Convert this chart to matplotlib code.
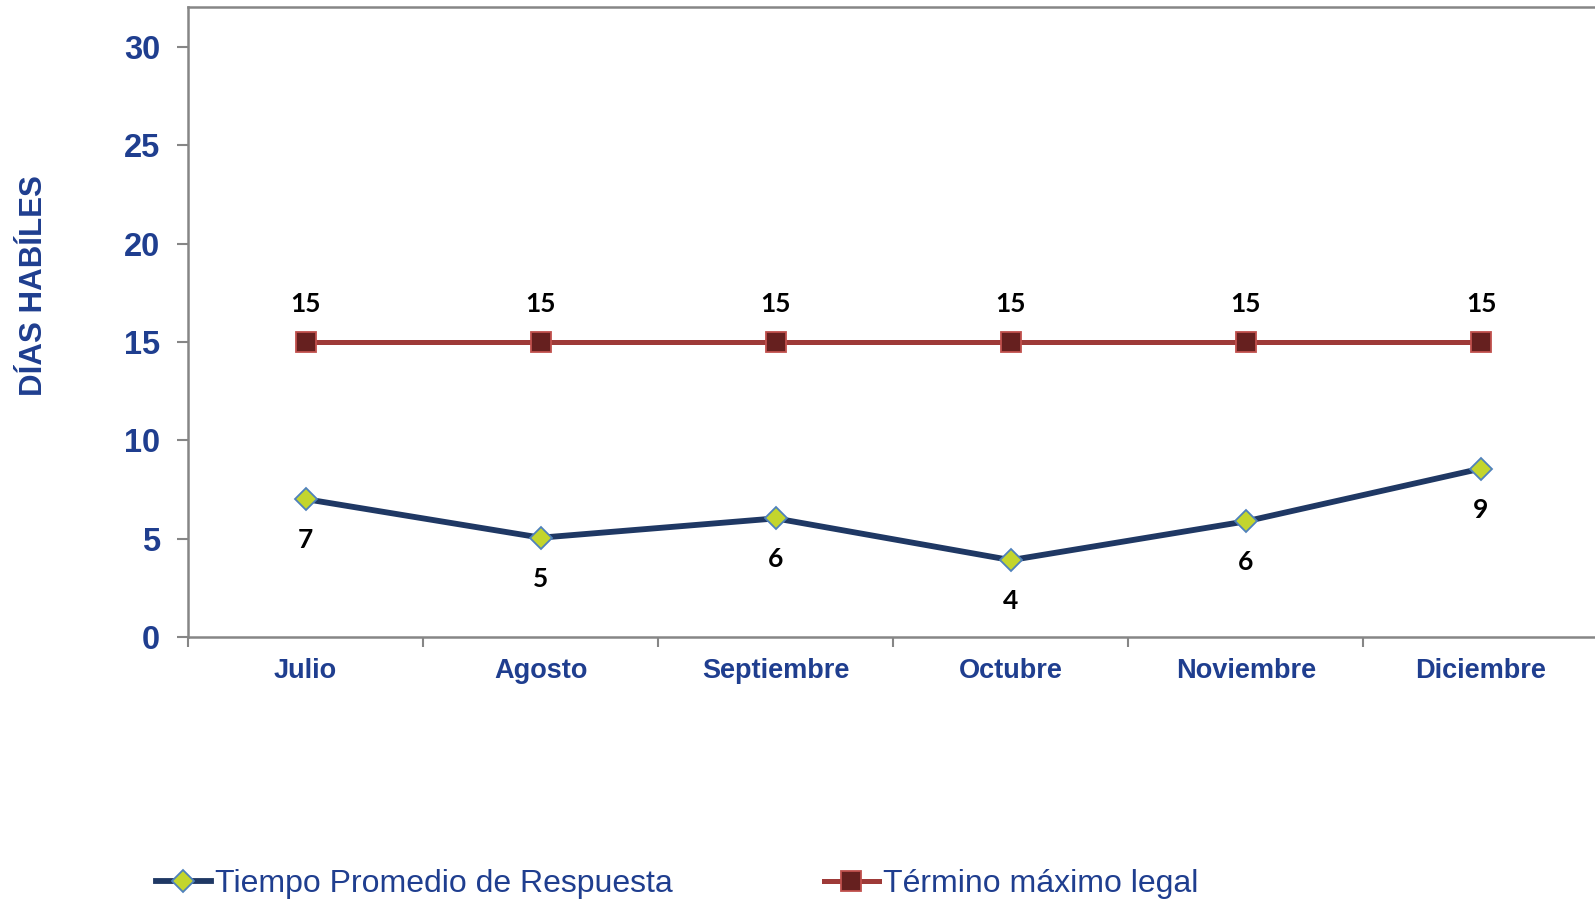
import matplotlib
matplotlib.use("Agg")
import matplotlib.pyplot as plt
from matplotlib.lines import Line2D

months = ["Julio", "Agosto", "Septiembre", "Octubre", "Noviembre", "Diciembre"]
tiempo = [7.02, 5.06, 6.04, 3.92, 5.89, 8.57]
termino = [15, 15, 15, 15, 15, 15]
yticks = [0, 5, 10, 15, 20, 25, 30]
series_names = ["Tiempo Promedio de Respuesta", "Término máximo legal"]

BLUE = "#1F3E8F"
NAVY = "#1F3864"
LIME = "#C3D52D"
MEDGE = "#4F81BD"
RED = "#9E3A38"
DRED = "#66201F"
REDGE = "#C0504D"
GRAY = "#868686"

fig = plt.figure(figsize=(15.95, 8.99), dpi=100)
ax = fig.add_axes([188/1595, 1 - 637.3/899, (1598.6 - 188)/1595, (637.3 - 7.3)/899])

x = list(range(len(months)))
navy_kw = dict(color=NAVY, lw=4.2, marker="D", markersize=11.5,
               markerfacecolor=LIME, markeredgecolor=MEDGE, markeredgewidth=1.3)
red_kw = dict(color=RED, lw=3.6, marker="s", markersize=14,
              markerfacecolor=DRED, markeredgecolor=REDGE, markeredgewidth=1.3)
ax.plot(x, termino, zorder=3, **red_kw)
ax.plot(x, tiempo, zorder=4, **navy_kw)

for xi, v in zip(x, termino):
    ax.annotate(f"{v:.0f}", (xi, v), xytext=(0, 27), textcoords="offset points",
                ha="center", va="center", fontsize=19, fontweight="bold",
                family="Lato", color="black")
for xi, v in zip(x, tiempo):
    ax.annotate(f"{v:.0f}", (xi, v), xytext=(0, -29.5), textcoords="offset points",
                ha="center", va="center", fontsize=19, fontweight="bold",
                family="Lato", color="black")

ax.set_xlim(-0.5, len(months) - 0.5)
ax.set_ylim(0, 32)
ax.set_yticks(yticks)
ax.set_yticklabels([str(t) for t in yticks], fontsize=23.5, fontweight="bold",
                   family="Liberation Sans", color=BLUE)
ax.set_xticks(x)
ax.set_xticklabels(months, fontsize=19.5, fontweight="bold",
                   family="Liberation Sans", color=BLUE)
ax.set_xticks([i - 0.5 for i in range(len(months) + 1)], minor=True)
ax.tick_params(axis="x", which="major", length=0, pad=15)
ax.tick_params(axis="x", which="minor", length=7, width=1.5, color=GRAY, direction="out")
ax.tick_params(axis="y", length=8, width=1.5, color=GRAY, direction="out", pad=12)

for s in ["top", "left", "bottom"]:
    ax.spines[s].set_color(GRAY)
    ax.spines[s].set_linewidth(1.8)
ax.spines["right"].set_visible(False)

fig.text(34/1595, 1 - 286/899, "DÍAS HABÍLES", rotation=90, ha="center", va="center",
         fontsize=22.5, fontweight="bold", family="Liberation Sans", color=BLUE)

handles = [Line2D([], [], **navy_kw), Line2D([], [], **red_kw)]
anchors = [156/1595, 824/1595]
for h, name, xa in zip(handles, series_names, anchors):
    leg = fig.legend([h], [name], loc="center left",
                     bbox_to_anchor=(xa, 1 - 884/899), frameon=False,
                     prop={"family": "Liberation Sans", "size": 23},
                     handlelength=1.72, handletextpad=0.12,
                     borderaxespad=0, borderpad=0)
    for t in leg.get_texts():
        t.set_color(BLUE)

fig.savefig("out.png", dpi=100)
